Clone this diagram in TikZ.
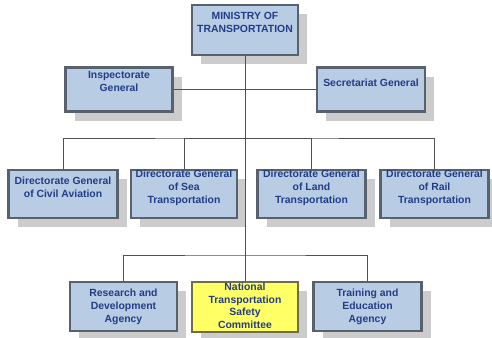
\documentclass[tikz,border=0pt]{standalone}
\usepackage{fontspec}
\setmainfont{Liberation Sans}
\usetikzlibrary{positioning,shadows}
\definecolor{boxfill}{HTML}{B8CCE4}
\definecolor{boxline}{HTML}{58626E}
\definecolor{navy}{HTML}{223D88}
\definecolor{ntscfill}{HTML}{FFFF66}
\definecolor{ntscline}{HTML}{6E6E4A}
\definecolor{linkc}{HTML}{505050}
\definecolor{shade}{HTML}{CCCCCC}

% stacked lines, raised a little above the box centre
\newcommand{\lines}[2][6pt]{\raisebox{\dimexpr#1-2.6pt\relax}[0pt][0pt]{\begin{tabular}{@{}c@{}}#2\end{tabular}}}

\tikzset{
  unit/.style={draw=boxline, line width=2.6pt, fill=boxfill, text=navy, inner sep=0pt,
    font=\fontsize{10.4}{13}\selectfont\bfseries,
    drop shadow={shadow xshift=9pt, shadow yshift=-9pt, fill=shade, opacity=1}},
  link/.style={draw=linkc, line width=0.9pt},
}

\begin{document}
\begin{tikzpicture}[x=1pt, y=-1pt]
  \useasboundingbox (0,0) rectangle (492,337);

  % Ministry and its staff offices
  \node[unit, minimum width=106, minimum height=50] (ministry) at (245,30) {\lines[7pt]{MINISTRY OF\\TRANSPORTATION}};
  \node[unit, minimum width=107, minimum height=44] (inspect) at (119,89.5) {\lines[7pt]{Inspectorate\\General}};
  \node[unit, minimum width=108, minimum height=44] (secret) at (371,89.5) {\lines{Secretariat General}};

  % Directorates general
  \node[unit, minimum width=109, minimum height=48] (civil) at (63,194) {\lines{Directorate General\\of Civil Aviation}};
  \node[unit, minimum width=106, minimum height=48] (sea) at (184,194) {\lines{Directorate General\\of Sea\\Transportation}};
  \node[unit, minimum width=108, minimum height=48] (land) at (311.5,194) {\lines{Directorate General\\of Land\\Transportation}};
  \node[unit, minimum width=108, minimum height=48] (rail) at (434.5,194) {\lines{Directorate General\\of Rail\\Transportation}};

  % Agencies and committee
  \node[unit, minimum width=107, minimum height=49] (research) at (123.5,306.5) {\lines[0pt]{Research and\\Development\\Agency}};
  \node[unit, minimum width=106, minimum height=50, fill=ntscfill, draw=ntscline,
    font=\fontsize{10.4}{12.6}\selectfont\bfseries] (safety) at (245,307) {\lines[0pt]{National\\Transportation\\Safety\\Committee}};
  \node[unit, minimum width=108, minimum height=49] (training) at (367.5,306.5) {\lines[0pt]{Training and\\Education\\Agency}};

  \coordinate (dirbus) at (245,138);
  \coordinate (agbus) at (245,255);

  % Connectors
  \draw[link] (inspect) -- (secret);
  \draw[link] (ministry) -- (safety);
  \draw[link] (civil.north) |- (dirbus) -| (rail.north);
  \draw[link] (sea.north) |- (dirbus);
  \draw[link] (land.north) |- (dirbus);
  \draw[link] (research.north) |- (agbus) -| (training.north);
\end{tikzpicture}
\end{document}
